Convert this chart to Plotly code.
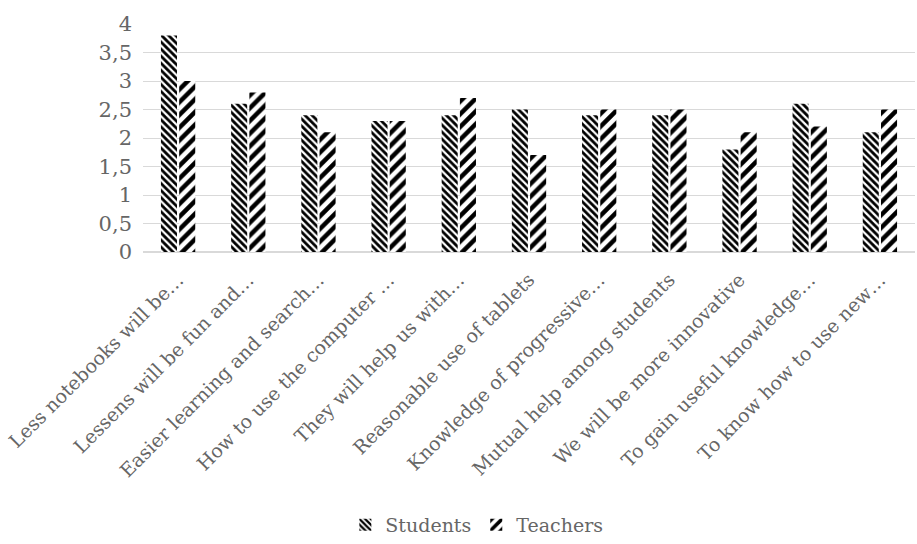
import plotly.graph_objects as go

categories = [
    "Less notebooks will be…",
    "Lessens will be fun and…",
    "Easier learning and search…",
    "How to use the computer …",
    "They will help us with…",
    "Reasonable use of tablets",
    "Knowledge of progressive…",
    "Mutual help among students",
    "We will be more innovative",
    "To gain useful knowledge…",
    "To know how to use new…",
]
students = [3.8, 2.6, 2.4, 2.3, 2.4, 2.5, 2.4, 2.4, 1.8, 2.6, 2.1]
teachers = [3.0, 2.8, 2.1, 2.3, 2.7, 1.7, 2.5, 2.5, 2.1, 2.2, 2.5]
y_ticks = [0, 0.5, 1, 1.5, 2, 2.5, 3, 3.5, 4]

FONT = "DejaVu Serif"
GREY = "#666666"

fig = go.Figure()
fig.add_trace(go.Bar(
    name="Students", x=categories, y=students,
    marker=dict(color="white", line=dict(width=0),
                pattern=dict(shape="\\", fgcolor="black", bgcolor="white", fgopacity=1,
                             size=5, solidity=0.55, fillmode="replace")),
))
fig.add_trace(go.Bar(
    name="Teachers", x=categories, y=teachers,
    marker=dict(color="white", line=dict(width=0),
                pattern=dict(shape="/", fgcolor="black", bgcolor="white", fgopacity=1,
                             size=9, solidity=0.5, fillmode="replace")),
))

fig.update_layout(
    width=917, height=544,
    margin=dict(l=143, r=2, t=24, b=292),
    paper_bgcolor="white", plot_bgcolor="white",
    barmode="group", bargap=0.48, bargroupgap=0.12,
    separators=", ",
    font=dict(family=FONT, size=19, color=GREY),
    showlegend=True,
    legend=dict(orientation="h", xref="container", x=0.52, xanchor="center",
                yref="container", y=-0.012, yanchor="bottom",
                font=dict(family=FONT, size=19, color=GREY)),
    xaxis=dict(tickangle=-45, showgrid=False, showline=False, ticks="",
               ticklabelstandoff=12,
               tickfont=dict(family=FONT, size=19, color=GREY)),
    yaxis=dict(range=[0, 4], tickvals=y_ticks, showgrid=True, gridcolor="#d9d9d9",
               gridwidth=1, zeroline=True, zerolinecolor="#d9d9d9", showline=False,
               ticks="", ticklabelstandoff=10,
               tickfont=dict(family=FONT, size=21, color=GREY)),
)

fig.write_html("out.html")
